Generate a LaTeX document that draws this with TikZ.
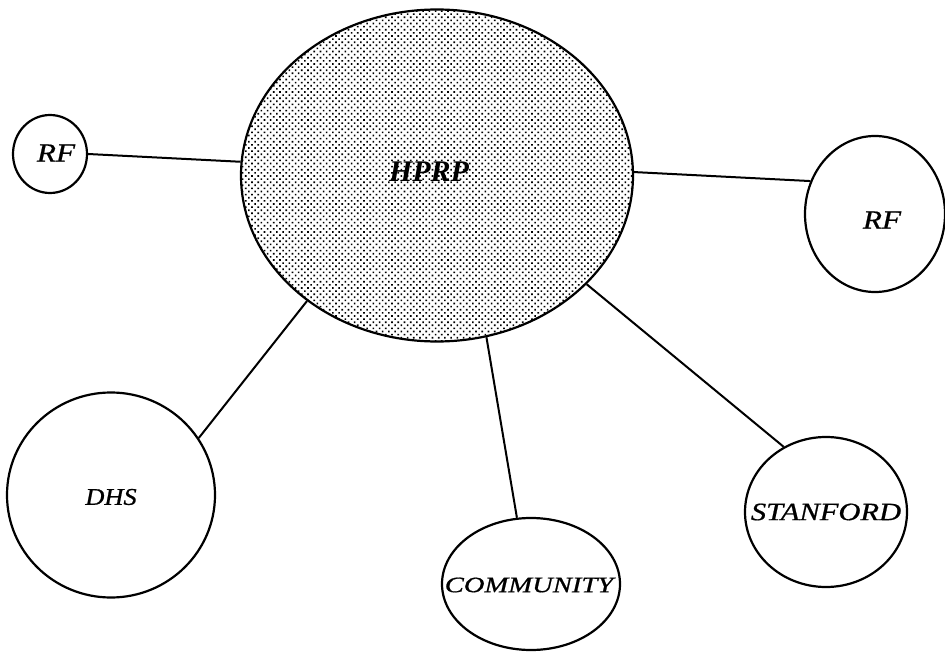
\documentclass[tikz,border=0pt]{standalone}
\usepackage{graphicx}
\usepackage{fontspec}
\setmainfont{Liberation Serif}
\usetikzlibrary{shapes.geometric,patterns.meta}
\newcommand{\lblfont}[1]{\fontsize{#1}{#1}\selectfont\itshape\addfontfeature{FakeBold=0.7}}
\begin{document}
\begin{tikzpicture}[x=1pt,y=-1pt,
  blob/.style={ellipse,draw=black,line width=2.2pt,inner sep=0pt},
  conn/.style={line width=2pt,draw=black},
  txt/.style={inner sep=0pt}]
\useasboundingbox (0,0) rectangle (945,652);
\node[blob, minimum width=392pt, minimum height=332pt,
      pattern={Dots[radius=1.15pt,distance=4.4pt,angle=45]}]
  (hprp) at (437,175.5) {};
\node[blob, minimum width=74pt, minimum height=78pt] (rfl) at (50,154) {};
\node[blob, minimum width=140pt, minimum height=156pt] (rfr) at (875,214) {};
\node[blob, minimum width=208pt, minimum height=205pt] (dhs) at (111,495) {};
\node[blob, minimum width=178pt, minimum height=132pt] (com) at (531,584) {};
\node[blob, minimum width=162pt, minimum height=150pt] (stan) at (826,512) {};
\node[txt] (hprp-t) at (429,172) {\fontsize{30}{30}\selectfont\bfseries\itshape HPRP};
\node[txt] (rfl-t) at (56,153) {\lblfont{26}\scalebox{1.2}[1]{RF}};
\node[txt] (rfr-t) at (882,220) {\lblfont{26}\scalebox{1.2}[1]{RF}};
\node[txt] (dhs-t) at (111,497) {\lblfont{24}\scalebox{1.1}[1]{DHS}};
\node[txt] (com-t) at (529,585) {\lblfont{22}\scalebox{1.3}[1]{COMMUNITY}};
\node[txt] (stan-t) at (826,512) {\lblfont{25}\scalebox{1.22}[1]{STANFORD}};
\draw[conn] (rfl.east) -- (hprp.176);
\draw[conn] (hprp.1.5) -- (rfr.153);
\draw[conn] (hprp.224.6) -- (dhs.33.7);
\draw[conn] (hprp.287) -- (com.102);
\draw[conn] (hprp.324.4) -- (stan.123.5);
\end{tikzpicture}
\end{document}
